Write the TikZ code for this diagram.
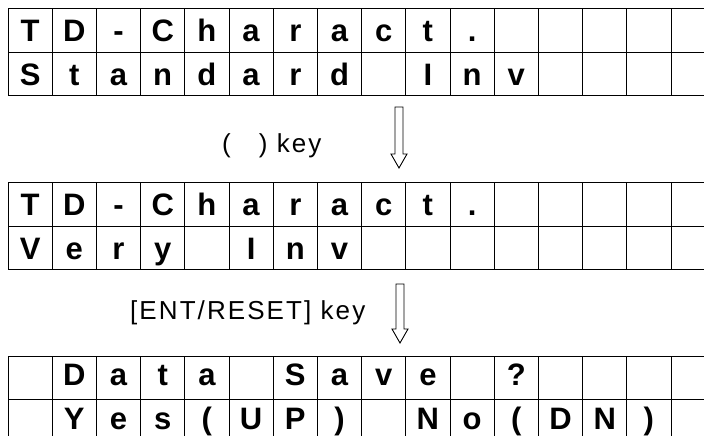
\documentclass[tikz,border=0pt]{standalone}
\usepackage{fontspec}
\setmainfont{Liberation Sans}
\newfontfamily\keyfont[LetterSpace=8]{Liberation Sans}
\usetikzlibrary{calc}

\tikzset{
  lcdcell/.style={draw, line width=0.9pt, minimum width=44.2pt, minimum height=43.7pt,
    inner sep=0pt, text height=22.4pt, text depth=0pt,
    font=\fontsize{31}{36}\selectfont\bfseries},
  raisedcell/.style={text depth=7pt},
  keylabel/.style={anchor=base west, inner sep=0pt, font=\fontsize{26}{30}\selectfont\keyfont},
  keyarrow/.style={draw, line width=0.9pt}
}

% one row of the display: options, name, y of the row centre, characters
\newcommand{\lcdrow}[4][]{%
  \foreach \ch [count=\i] in {#4} {
    \node[lcdcell,#1] (#2-\i) at ({8+(\i-0.5)*44.2}, #3) {\ch};
  }
}

% hollow down arrow between two coordinates
\newcommand{\keyarrow}[2]{%
  \draw[keyarrow] ($(#1)+(-4,0)$) -- ($(#1)+(4,0)$) -- ($(#2)+(4,-14)$)
    -- ($(#2)+(8,-14)$) -- (#2) -- ($(#2)+(-8,-14)$) -- ($(#2)+(-4,-14)$) -- cycle;
}

\begin{document}
\begin{tikzpicture}[x=1pt,y=-1pt]
    \useasboundingbox (0,0) rectangle (704,436);
    \clip (0,0) rectangle (704,436);

    % first display
    \lcdrow{firstA}{30.15}{T,D,-,C,h,a,r,a,c,t,.,{},{},{},{},{}}
    \lcdrow{firstB}{73.85}{S,t,a,n,d,a,r,d,{},I,n,v,{},{},{},{}}

    \node[keylabel] (downkey) at (222,152) {(\hspace{28pt}) key};
    \coordinate (arrowA top) at (399,107);
    \coordinate (arrowA tip) at (399,168);
    \keyarrow{arrowA top}{arrowA tip}

    % second display
    \lcdrow{secondA}{204.15}{T,D,-,C,h,a,r,a,c,t,.,{},{},{},{},{}}
    \lcdrow{secondB}{247.85}{V,e,r,y,{},I,n,v,{},{},{},{},{},{},{},{}}

    \node[keylabel] (entkey) at (130,319) {[ENT/RESET] key};
    \coordinate (arrowB top) at (400,284);
    \coordinate (arrowB tip) at (400,343);
    \keyarrow{arrowB top}{arrowB tip}

    % third display
    \lcdrow[raisedcell]{thirdA}{377.85}{{},D,a,t,a,{},S,a,v,e,{},?,{},{},{},{}}
    \lcdrow[raisedcell]{thirdB}{421.55}{{},Y,e,s,{(},U,P,{)},{},N,o,{(},D,N,{)},{}}
  \end{tikzpicture}
\end{document}
